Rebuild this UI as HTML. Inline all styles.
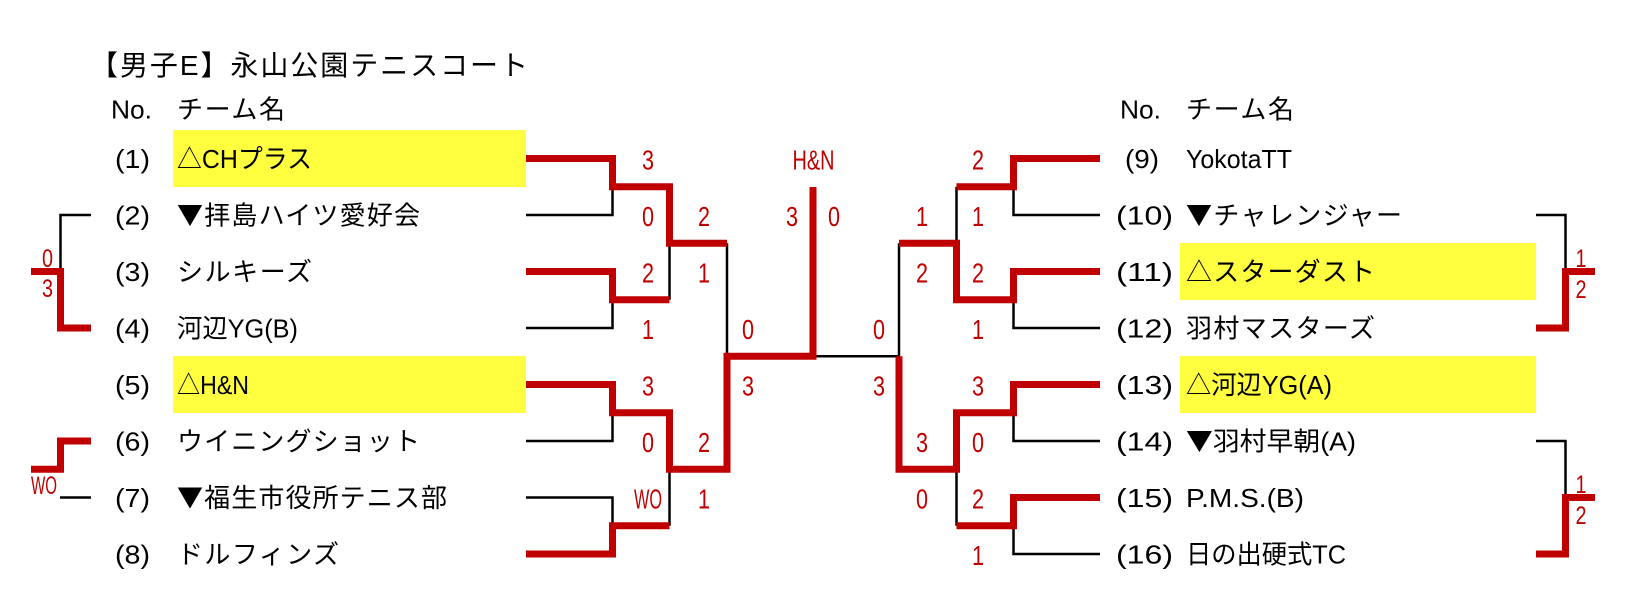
<!DOCTYPE html>
<html>
<head>
<meta charset="utf-8">
<style>
html,body{margin:0;padding:0;background:#fff;}
svg{display:block;}
.t{font-family:"Liberation Sans","Noto Sans CJK JP",sans-serif;font-size:26px;fill:#000;}
.j{font-family:"Noto Sans CJK JP","Liberation Sans",sans-serif;}
.ti{font-family:"Liberation Sans","Noto Sans CJK JP",sans-serif;font-size:28px;fill:#000;}
.s{font-family:"Liberation Sans","Noto Sans CJK JP",sans-serif;font-size:28px;fill:#c00000;}
.ms{font-family:"Liberation Sans","Noto Sans CJK JP",sans-serif;font-size:25px;fill:#c00000;}
.r{fill:none;stroke:#c00000;stroke-width:7;stroke-linejoin:miter;stroke-linecap:butt;}
.b{fill:none;stroke:#000;stroke-width:2.5;stroke-linejoin:miter;stroke-linecap:butt;}
</style>
</head>
<body>
<svg width="1630" height="614" viewBox="0 0 1630 614" xmlns="http://www.w3.org/2000/svg">
<rect x="0" y="0" width="1630" height="614" fill="#fff"/>

<!-- yellow highlights -->
<rect x="173" y="130" width="353" height="57" fill="#ffff40"/>
<rect x="173" y="356" width="353" height="57" fill="#ffff40"/>
<rect x="1180" y="243" width="356" height="57" fill="#ffff40"/>
<rect x="1180" y="356" width="356" height="57" fill="#ffff40"/>

<!-- title & headers -->
<text class="ti" x="90" y="75" textLength="438">【男子E】永山公園テニスコート</text>
<text class="t" x="111" y="118.5" textLength="41" lengthAdjust="spacingAndGlyphs">No.</text>
<text class="t" x="177" y="118.5" textLength="108">チーム名</text>
<text class="t" x="1120" y="118.5" textLength="41" lengthAdjust="spacingAndGlyphs">No.</text>
<text class="t" x="1186" y="118.5" textLength="108">チーム名</text>

<!-- left numbers -->
<text class="t" x="115" y="168" textLength="35" lengthAdjust="spacingAndGlyphs">(1)</text>
<text class="t" x="115" y="224.5" textLength="35" lengthAdjust="spacingAndGlyphs">(2)</text>
<text class="t" x="115" y="281" textLength="35" lengthAdjust="spacingAndGlyphs">(3)</text>
<text class="t" x="115" y="337.5" textLength="35" lengthAdjust="spacingAndGlyphs">(4)</text>
<text class="t" x="115" y="394" textLength="35" lengthAdjust="spacingAndGlyphs">(5)</text>
<text class="t" x="115" y="450.5" textLength="35" lengthAdjust="spacingAndGlyphs">(6)</text>
<text class="t" x="115" y="507" textLength="35" lengthAdjust="spacingAndGlyphs">(7)</text>
<text class="t" x="115" y="563.5" textLength="35" lengthAdjust="spacingAndGlyphs">(8)</text>

<!-- left names -->
<text class="t" x="177" y="168" textLength="135" lengthAdjust="spacingAndGlyphs">△CHプラス</text>
<text class="t" x="177" y="224.5" textLength="243"><tspan class="j">▼</tspan>拝島ハイツ愛好会</text>
<text class="t" x="177" y="281" textLength="135">シルキーズ</text>
<text class="t" x="177" y="337.5" textLength="121" lengthAdjust="spacingAndGlyphs">河辺YG(B)</text>
<text class="t" x="177" y="394" textLength="72" lengthAdjust="spacingAndGlyphs">△H&amp;N</text>
<text class="t" x="177" y="450.5" textLength="243">ウイニングショット</text>
<text class="t" x="177" y="507" textLength="270"><tspan class="j">▼</tspan>福生市役所テニス部</text>
<text class="t" x="177" y="563.5" textLength="162">ドルフィンズ</text>

<!-- right numbers -->
<text class="t" x="1125" y="168" textLength="34" lengthAdjust="spacingAndGlyphs">(9)</text>
<text class="t" x="1116" y="224.5" textLength="57" lengthAdjust="spacingAndGlyphs">(10)</text>
<text class="t" x="1116" y="281" textLength="57" lengthAdjust="spacingAndGlyphs">(11)</text>
<text class="t" x="1116" y="337.5" textLength="57" lengthAdjust="spacingAndGlyphs">(12)</text>
<text class="t" x="1116" y="394" textLength="57" lengthAdjust="spacingAndGlyphs">(13)</text>
<text class="t" x="1116" y="450.5" textLength="57" lengthAdjust="spacingAndGlyphs">(14)</text>
<text class="t" x="1116" y="507" textLength="57" lengthAdjust="spacingAndGlyphs">(15)</text>
<text class="t" x="1116" y="563.5" textLength="57" lengthAdjust="spacingAndGlyphs">(16)</text>

<!-- right names -->
<text class="t" x="1186" y="168" textLength="106" lengthAdjust="spacingAndGlyphs">YokotaTT</text>
<text class="t" x="1186" y="224.5" textLength="216"><tspan class="j">▼</tspan>チャレンジャー</text>
<text class="t" x="1186" y="281" textLength="189">△スターダスト</text>
<text class="t" x="1186" y="337.5" textLength="189">羽村マスターズ</text>
<text class="t" x="1186" y="394" textLength="146" lengthAdjust="spacingAndGlyphs">△河辺YG(A)</text>
<text class="t" x="1186" y="450.5" textLength="170" lengthAdjust="spacingAndGlyphs"><tspan class="j">▼</tspan>羽村早朝(A)</text>
<text class="t" x="1186" y="507" textLength="118" lengthAdjust="spacingAndGlyphs">P.M.S.(B)</text>
<text class="t" x="1186" y="563.5" textLength="160" lengthAdjust="spacingAndGlyphs">日の出硬式TC</text>

<!-- black lines (losers) -->
<path class="b" d="M526,215 H612.5 V186.75"/>
<path class="b" d="M526,328 H612.5 V299.75"/>
<path class="b" d="M669.5,243.25 V299.75"/>
<path class="b" d="M727,243.25 V356.25"/>
<path class="b" d="M526,441 H612.5 V412.75"/>
<path class="b" d="M526,497.5 H612.5 V525.75"/>
<path class="b" d="M669.5,469.25 V525.75"/>
<path class="b" d="M813,356.25 H899"/>

<path class="b" d="M1100,215 H1013.5 V186.75"/>
<path class="b" d="M1100,328 H1013.5 V299.75"/>
<path class="b" d="M956.5,186.75 V243.25"/>
<path class="b" d="M899,243.25 V356.25"/>
<path class="b" d="M1100,441 H1013.5 V412.75"/>
<path class="b" d="M1100,554 H1013.5 V525.75"/>
<path class="b" d="M956.5,469.25 V525.75"/>

<!-- red lines (winners) -->
<path class="r" d="M526,158.5 H612.5 V186.75 H669.5 V243.25 H727"/>
<path class="r" d="M526,271.5 H612.5 V299.75 H669.5"/>
<path class="r" d="M526,384.5 H612.5 V412.75 H669.5 V469.25 H727 V356.25 H813 V187"/>
<path class="r" d="M526,554 H612.5 V525.75 H669.5"/>

<path class="r" d="M1100,158.5 H1013.5 V186.75 H956.5"/>
<path class="r" d="M1100,271.5 H1013.5 V299.75 H956.5 V243.25 H899"/>
<path class="r" d="M1100,384.5 H1013.5 V412.75 H956.5 V469.25 H899 V356.25"/>
<path class="r" d="M1100,497.5 H1013.5 V525.75 H956.5"/>

<!-- side mini brackets -->
<path class="b" d="M91,215 H60.5 V271.5"/>
<path class="r" d="M31,271.5 H60.5 V328 H91"/>
<path class="r" d="M91,441 H60.5 V469.25 H31"/>
<path class="b" d="M60,497.5 H91"/>

<path class="b" d="M1536,215 H1565.5 V271.5"/>
<path class="r" d="M1595,271.5 H1565.5 V328 H1536"/>
<path class="b" d="M1536,441 H1565.5 V497.5"/>
<path class="r" d="M1595,497.5 H1565.5 V554 H1536"/>

<text class="ms" x="42" y="267" textLength="11" lengthAdjust="spacingAndGlyphs">0</text>
<text class="ms" x="42" y="297" textLength="11" lengthAdjust="spacingAndGlyphs">3</text>
<text class="ms" x="31" y="494" textLength="26" lengthAdjust="spacingAndGlyphs">WO</text>
<text class="ms" x="1575.5" y="267" textLength="11" lengthAdjust="spacingAndGlyphs">1</text>
<text class="ms" x="1575.5" y="298" textLength="11" lengthAdjust="spacingAndGlyphs">2</text>
<text class="ms" x="1575.5" y="493" textLength="11" lengthAdjust="spacingAndGlyphs">1</text>
<text class="ms" x="1575.5" y="524" textLength="11" lengthAdjust="spacingAndGlyphs">2</text>

<!-- scores left R1 -->
<text class="s" x="642" y="169.5" textLength="12" lengthAdjust="spacingAndGlyphs">3</text>
<text class="s" x="642" y="226" textLength="12" lengthAdjust="spacingAndGlyphs">0</text>
<text class="s" x="642" y="282.5" textLength="12" lengthAdjust="spacingAndGlyphs">2</text>
<text class="s" x="642" y="339" textLength="12" lengthAdjust="spacingAndGlyphs">1</text>
<text class="s" x="642" y="395.5" textLength="12" lengthAdjust="spacingAndGlyphs">3</text>
<text class="s" x="642" y="452" textLength="12" lengthAdjust="spacingAndGlyphs">0</text>
<text class="s" x="634" y="508.5" textLength="28" lengthAdjust="spacingAndGlyphs">WO</text>

<!-- left R2 -->
<text class="s" x="698" y="226" textLength="12" lengthAdjust="spacingAndGlyphs">2</text>
<text class="s" x="698" y="282.5" textLength="12" lengthAdjust="spacingAndGlyphs">1</text>
<text class="s" x="698" y="452" textLength="12" lengthAdjust="spacingAndGlyphs">2</text>
<text class="s" x="698" y="508.5" textLength="12" lengthAdjust="spacingAndGlyphs">1</text>

<!-- left SF -->
<text class="s" x="742" y="339" textLength="12" lengthAdjust="spacingAndGlyphs">0</text>
<text class="s" x="742" y="395.5" textLength="12" lengthAdjust="spacingAndGlyphs">3</text>

<!-- final -->
<text class="s" x="792.5" y="169.5" textLength="42" lengthAdjust="spacingAndGlyphs">H&amp;N</text>
<text class="s" x="786" y="226" textLength="12" lengthAdjust="spacingAndGlyphs">3</text>
<text class="s" x="828" y="226" textLength="12" lengthAdjust="spacingAndGlyphs">0</text>

<!-- right SF -->
<text class="s" x="873" y="339" textLength="12" lengthAdjust="spacingAndGlyphs">0</text>
<text class="s" x="873" y="395.5" textLength="12" lengthAdjust="spacingAndGlyphs">3</text>

<!-- right R2 -->
<text class="s" x="916" y="226" textLength="12" lengthAdjust="spacingAndGlyphs">1</text>
<text class="s" x="916" y="282.5" textLength="12" lengthAdjust="spacingAndGlyphs">2</text>
<text class="s" x="916" y="452" textLength="12" lengthAdjust="spacingAndGlyphs">3</text>
<text class="s" x="916" y="508.5" textLength="12" lengthAdjust="spacingAndGlyphs">0</text>

<!-- right R1 -->
<text class="s" x="972" y="169.5" textLength="12" lengthAdjust="spacingAndGlyphs">2</text>
<text class="s" x="972" y="226" textLength="12" lengthAdjust="spacingAndGlyphs">1</text>
<text class="s" x="972" y="282.5" textLength="12" lengthAdjust="spacingAndGlyphs">2</text>
<text class="s" x="972" y="339" textLength="12" lengthAdjust="spacingAndGlyphs">1</text>
<text class="s" x="972" y="395.5" textLength="12" lengthAdjust="spacingAndGlyphs">3</text>
<text class="s" x="972" y="452" textLength="12" lengthAdjust="spacingAndGlyphs">0</text>
<text class="s" x="972" y="508.5" textLength="12" lengthAdjust="spacingAndGlyphs">2</text>
<text class="s" x="972" y="565" textLength="12" lengthAdjust="spacingAndGlyphs">1</text>
</svg>
</body>
</html>
